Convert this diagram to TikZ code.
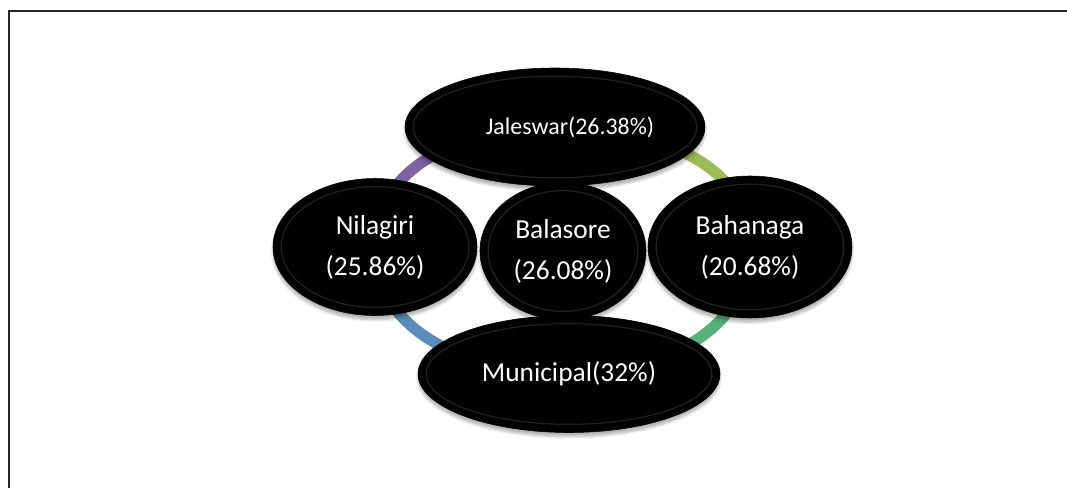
\documentclass[tikz,border=0pt]{standalone}
\usepackage{fontspec}
\setmainfont{Carlito}
\usepackage{tikz}
\usetikzlibrary{shapes.geometric, calc, backgrounds, shadows.blur}
\definecolor{rgPurple}{HTML}{8064A2}
\definecolor{rgOlive}{HTML}{9BBB59}
\definecolor{rgGreen}{HTML}{55B07A}
\definecolor{rgBlue}{HTML}{5B8DB8}

\begin{document}
\begin{tikzpicture}[
  blob/.style={ellipse, fill=black, draw=black, inner sep=0pt, text=white,
               align=center, font=\fontsize{19.5}{29}\selectfont,
               blur shadow={shadow xshift=0pt, shadow yshift=-3pt,
                            shadow blur steps=6, shadow opacity=30}},
  rim/.style={draw=white!13!black, line width=0.9pt},
  ring/.style={line width=8pt, draw=#1},
  frame/.style={line width=2pt, black!85}
]
  \useasboundingbox (0,0) rectangle (26.675,12.2);
  \draw[frame] (0.225,0) -- (0.225,11.925) -- (26.675,11.925);

  \node[blob, minimum width=4.15cm, minimum height=3.425cm] (bal) at (14.075,5.925) {Balasore\\(26.08\%)};
  \node[blob, minimum width=5.1cm, minimum height=3.425cm] (nil) at (9.375,6.025) {Nilagiri\\(25.86\%)};
  \node[blob, minimum width=5.1cm, minimum height=3.55cm] (bah) at (18.75,6.025) {Bahanaga\\(20.68\%)};
  \node[blob, minimum width=7.5cm, minimum height=2.95cm, font=\fontsize{17}{24}\selectfont] (jal) at (13.875,9.025) {\hspace*{0.75cm}Jaleswar(26.38\%)};
  \node[blob, minimum width=7.55cm, minimum height=2.925cm] (mun) at (14.225,2.85) {Municipal(32\%)};

  \foreach \nd in {bal,nil,bah,jal,mun}
    \draw[rim] let \p1=($(\nd.east)-(\nd.center)$), \p2=($(\nd.north)-(\nd.center)$) in
      (\nd.center) ellipse [x radius={\x1-6pt}, y radius={\y2-6pt}];

  \begin{scope}[on background layer]
    \draw[ring=rgOlive] (jal.center) to[out=0, in=90] (bah.center);
    \draw[ring=rgGreen] (bah.center) to[out=-90, in=0] (mun.center);
    \draw[ring=rgBlue] (mun.center) to[out=180, in=-90] (nil.center);
    \draw[ring=rgPurple] (nil.center) to[out=90, in=180] (jal.center);
  \end{scope}
\end{tikzpicture}
\end{document}
